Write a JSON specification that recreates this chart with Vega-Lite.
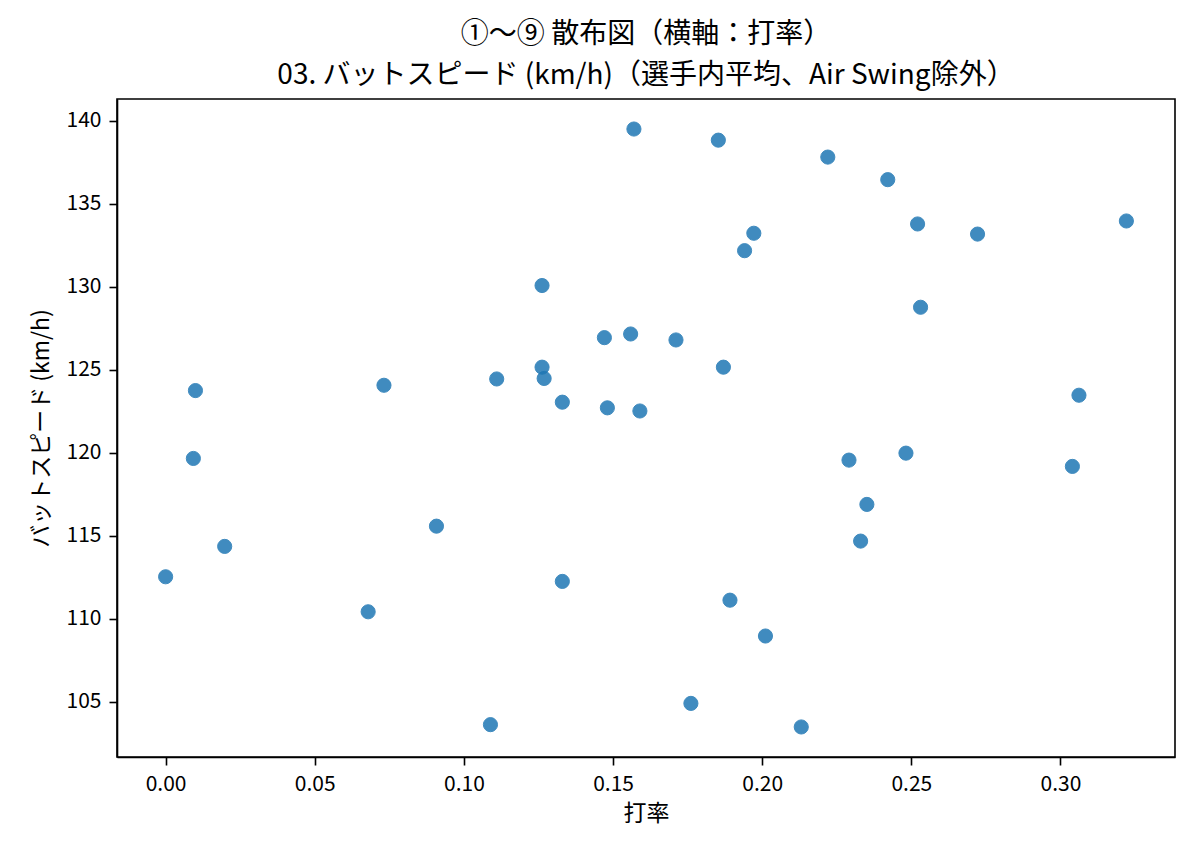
{
  "$schema": "https://vega.github.io/schema/vega-lite/v6.json",
  "autosize": {"type": "none"},
  "width": 1058,
  "height": 658,
  "padding": {"left": 117, "top": 99, "right": 25, "bottom": 100},
  "background": "white",
  "title": {
    "text": ["①〜⑨ 散布図（横軸：打率）", "03. バットスピード (km/h)（選手内平均、Air Swing除外）"],
    "font": "Noto Sans CJK JP",
    "fontSize": 28,
    "fontWeight": "normal",
    "color": "black",
    "anchor": "middle",
    "lineHeight": 41,
    "offset": 9
  },
  "config": {
    "view": {"stroke": "black", "strokeWidth": 1.6},
    "axis": {
      "labelFont": "Noto Sans CJK JP",
      "titleFont": "Noto Sans CJK JP",
      "labelFontSize": 21,
      "titleFontSize": 23,
      "titleFontWeight": "normal",
      "labelColor": "black",
      "titleColor": "black",
      "domainColor": "black",
      "domainWidth": 1.6,
      "tickColor": "black",
      "tickWidth": 1.6,
      "tickSize": 8,
      "labelPadding": 8,
      "grid": false
    }
  },
  "data": {
    "values": [
      {"avg": 0.0000, "speed": 112.53},
      {"avg": 0.0093, "speed": 119.66},
      {"avg": 0.0100, "speed": 123.75},
      {"avg": 0.0198, "speed": 114.36},
      {"avg": 0.0679, "speed": 110.42},
      {"avg": 0.0732, "speed": 124.07},
      {"avg": 0.0908, "speed": 115.58},
      {"avg": 0.1089, "speed": 103.62},
      {"avg": 0.1110, "speed": 124.45},
      {"avg": 0.1262, "speed": 130.08},
      {"avg": 0.1262, "speed": 125.16},
      {"avg": 0.1269, "speed": 124.48},
      {"avg": 0.1330, "speed": 123.05},
      {"avg": 0.1330, "speed": 112.25},
      {"avg": 0.1471, "speed": 126.94},
      {"avg": 0.1481, "speed": 122.71},
      {"avg": 0.1559, "speed": 127.16},
      {"avg": 0.1570, "speed": 139.51},
      {"avg": 0.1590, "speed": 122.52},
      {"avg": 0.1711, "speed": 126.80},
      {"avg": 0.1761, "speed": 104.90},
      {"avg": 0.1853, "speed": 138.84},
      {"avg": 0.1870, "speed": 125.16},
      {"avg": 0.1892, "speed": 111.12},
      {"avg": 0.1941, "speed": 132.18},
      {"avg": 0.1972, "speed": 133.23},
      {"avg": 0.2011, "speed": 108.96},
      {"avg": 0.2131, "speed": 103.48},
      {"avg": 0.2220, "speed": 137.82},
      {"avg": 0.2291, "speed": 119.56},
      {"avg": 0.2330, "speed": 114.68},
      {"avg": 0.2351, "speed": 116.89},
      {"avg": 0.2421, "speed": 136.46},
      {"avg": 0.2482, "speed": 119.98},
      {"avg": 0.2521, "speed": 133.79},
      {"avg": 0.2531, "speed": 128.77},
      {"avg": 0.2722, "speed": 133.18},
      {"avg": 0.3040, "speed": 119.18},
      {"avg": 0.3062, "speed": 123.47},
      {"avg": 0.3221, "speed": 133.97}
    ]
  },
  "mark": {"type": "circle", "size": 200, "color": "#1f77b4", "opacity": 0.85, "stroke": "#1f77b4", "strokeWidth": 1},
  "encoding": {
    "x": {
      "field": "avg",
      "type": "quantitative",
      "scale": {"domain": [-0.0163, 0.3384], "nice": false, "zero": false},
      "axis": {"title": "打率", "values": [0, 0.05, 0.1, 0.15, 0.2, 0.25, 0.3], "format": ".2f", "titlePadding": 8}
    },
    "y": {
      "field": "speed",
      "type": "quantitative",
      "scale": {"domain": [101.67, 141.32], "nice": false, "zero": false},
      "axis": {"title": "バットスピード (km/h)", "values": [105, 110, 115, 120, 125, 130, 135, 140], "format": "d", "titlePadding": 13}
    }
  }
}
